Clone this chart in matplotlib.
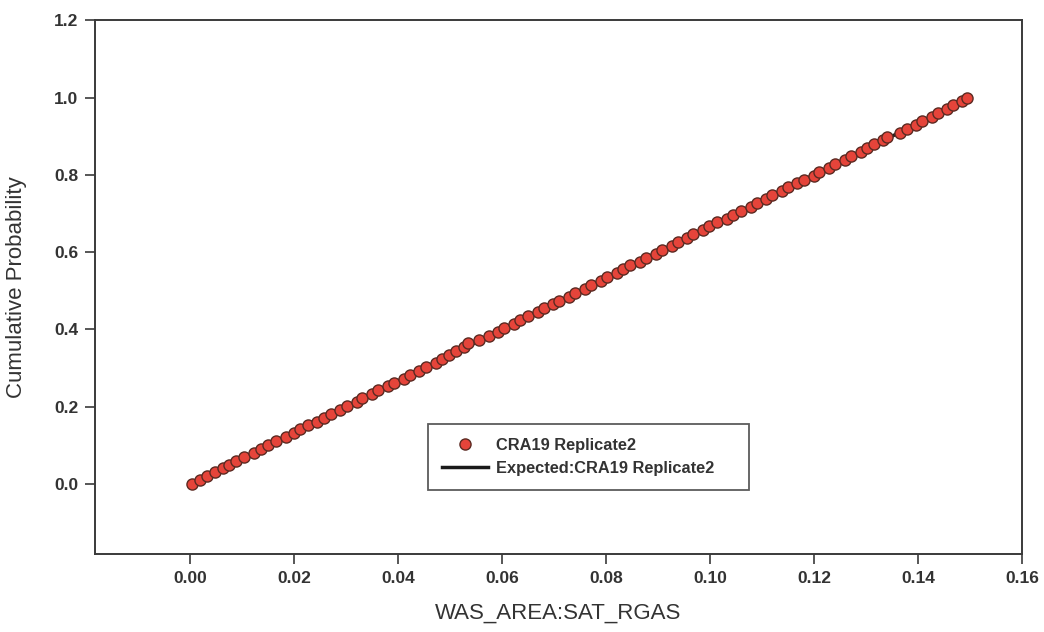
import numpy as np
import matplotlib
matplotlib.use("Agg")
import matplotlib.pyplot as plt

plt.rcParams['font.family'] = ['Liberation Sans', 'DejaVu Sans']

# Sampled values of WAS_AREA:SAT_RGAS (sorted)
sat_rgas = [
    0.0004, 0.0018, 0.0032, 0.0047, 0.0063, 0.0074, 0.0088, 0.0104, 0.0122, 0.0137,
    0.0150, 0.0165, 0.0184, 0.0199, 0.0211, 0.0226, 0.0244, 0.0257, 0.0271, 0.0289,
    0.0302, 0.0320, 0.0331, 0.0349, 0.0362, 0.0380, 0.0393, 0.0411, 0.0422, 0.0440,
    0.0453, 0.0472, 0.0484, 0.0498, 0.0512, 0.0527, 0.0534, 0.0556, 0.0574, 0.0592,
    0.0604, 0.0623, 0.0634, 0.0650, 0.0669, 0.0681, 0.0698, 0.0710, 0.0729, 0.0741,
    0.0759, 0.0771, 0.0790, 0.0801, 0.0820, 0.0832, 0.0846, 0.0866, 0.0877, 0.0895,
    0.0907, 0.0926, 0.0938, 0.0956, 0.0968, 0.0987, 0.0998, 0.1013, 0.1032, 0.1044,
    0.1059, 0.1078, 0.1090, 0.1108, 0.1119, 0.1138, 0.1150, 0.1168, 0.1180, 0.1199,
    0.1210, 0.1229, 0.1241, 0.1259, 0.1271, 0.1290, 0.1302, 0.1316, 0.1332, 0.1341,
    0.1366, 0.1378, 0.1396, 0.1407, 0.1426, 0.1438, 0.1456, 0.1468, 0.1484, 0.1495,
]

# Expected (uniform) distribution endpoints
expected_x = [0.0, 0.15]
expected_y = [0.0, 1.0]

series_label = "CRA19 Replicate2"
expected_label = "Expected:CRA19 Replicate2"
x_label = "WAS_AREA:SAT_RGAS"
y_label = "Cumulative Probability"
x_ticks = [0.00, 0.02, 0.04, 0.06, 0.08, 0.10, 0.12, 0.14, 0.16]
y_ticks = [0.0, 0.2, 0.4, 0.6, 0.8, 1.0, 1.2]

# Empirical cumulative probability from the sorted sample ranks
xs = np.sort(np.array(sat_rgas))
cum_prob = np.arange(len(xs)) / (len(xs) - 1)

text_col = "#333333"
fig = plt.figure(figsize=(10.44, 6.32), dpi=100)
ax = fig.add_axes([0.091, 0.1234, 0.888, 0.8446])

ax.plot(expected_x, expected_y, color="#1a1a1a", lw=2.5, label=expected_label, zorder=2)
ax.plot(xs, cum_prob, linestyle="none", marker="o", markersize=8,
        markerfacecolor="#e5443a", markeredgecolor="#5b2a22", markeredgewidth=1.0,
        label=series_label, zorder=3)

ax.set_xlim(-0.0183, 0.16)
ax.set_ylim(-0.181, 1.2)
ax.set_xticks(x_ticks)
ax.set_xticklabels([f"{v:.2f}" for v in x_ticks])
ax.set_yticks(y_ticks)
ax.set_yticklabels([f"{v:.1f}" for v in y_ticks])

for s in ax.spines.values():
    s.set_color("#3a3a3a")
    s.set_linewidth(1.4)
ax.tick_params(direction="out", length=7, width=1.2, color="#3a3a3a",
               labelsize=12.5, labelcolor=text_col, pad=5)
for lab in ax.get_xticklabels() + ax.get_yticklabels():
    lab.set_fontweight("bold")

ax.set_xlabel(x_label, fontsize=16, color=text_col, labelpad=12)
ax.set_ylabel(y_label, fontsize=16, color=text_col)
ax.yaxis.set_label_coords(-0.073, 0.5)

handles, labels = ax.get_legend_handles_labels()
order = [1, 0]
leg = ax.legend([handles[i] for i in order], [labels[i] for i in order],
                loc="lower left", bbox_to_anchor=(0.359, 0.12, 0.346, 0.131),
                mode="expand", fancybox=False, edgecolor="#333333",
                prop={"weight": "bold", "size": 11.8}, handlelength=2.8,
                borderpad=0.85, labelspacing=0.5, handletextpad=0.5,
                borderaxespad=0.0)
leg.get_frame().set_linewidth(1.3)
for t in leg.get_texts():
    t.set_color(text_col)

fig.savefig("out.png", dpi=100)
